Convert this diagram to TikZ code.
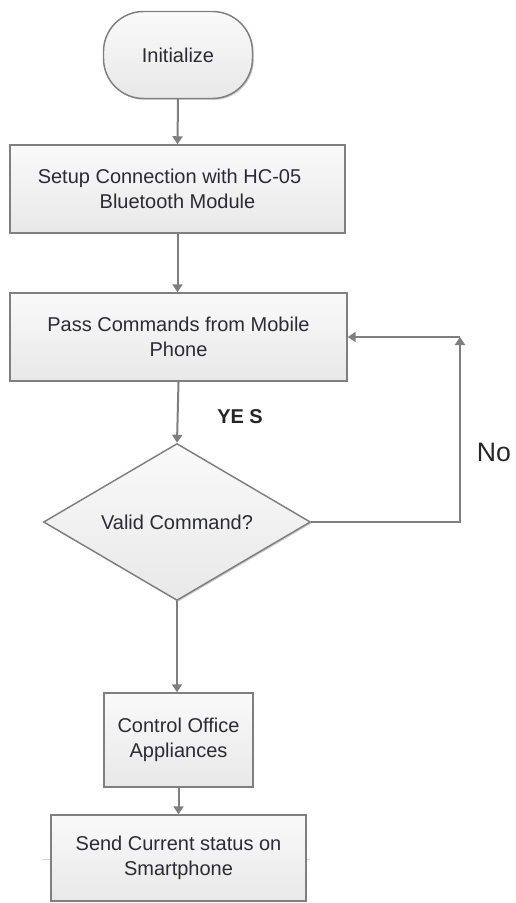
\documentclass[tikz,border=0pt]{standalone}
\usepackage{fontspec}
\setmainfont{Liberation Sans}
\usetikzlibrary{shapes.geometric,arrows.meta,shadows}
\definecolor{linegray}{HTML}{7F7F7F}
\definecolor{txt}{HTML}{2B2B33}
\tikzset{
  box/.style={draw=linegray, line width=1.1pt, top color=white!98!black, bottom color=white!91!black,
    text=txt, font=\fontsize{15}{19}\selectfont, align=center, inner sep=0pt,
    drop shadow={shadow xshift=1pt, shadow yshift=-1pt, opacity=0.2, fill=black}},
  arr/.style={draw=linegray, line width=1.5pt, -{Triangle[width=7.5pt,length=6pt]}},
  lbl/.style={text=black!85, inner sep=0pt},
}
\begin{document}
\begin{tikzpicture}[x=0.75pt, y=-0.75pt]
\useasboundingbox (0,0) rectangle (516,903);
\node[box, rounded corners=30pt, minimum width=111.75pt, minimum height=65.25pt] (init) at (178,55) {Initialize};
\node[box, minimum width=251.25pt, minimum height=66pt] (setup) at (177.5,189) {Setup Connection with HC-05\hspace*{12pt}\\Bluetooth Module};
\node[box, minimum width=252.75pt, minimum height=66pt] (pass) at (178.5,337) {Pass Commands from Mobile\\Phone};
\node[box, shape=diamond, aspect=1.7, minimum width=200.25pt, minimum height=117.75pt] (dec) at (177,522) {Valid Command?};
\node[box, minimum width=111.75pt, minimum height=70.5pt] (ctrl) at (178.5,740) {Control Office\\Appliances};
\draw[black!15, line width=0.75pt] (42,859) -- (310,859);
\node[box, minimum width=191.25pt, minimum height=64.5pt] (send) at (178.5,858) {Send Current status on\\Smartphone};

\coordinate (c1) at (460,522);
\coordinate (c2) at (460,337);

\draw[arr] (init.south) -- (setup.north);
\draw[arr] (setup.south) -- (setup.south |- pass.north);
\draw[arr] (pass.south) -- (dec.north);
\draw[arr] (dec.south) -- (dec.south |- ctrl.north);
\draw[arr] (ctrl.south) -- (ctrl.south |- send.north);
\draw[arr] (dec.east) -- (c1) -- (c2);
\draw[arr] (c2) -- (pass.east |- c2);

\node[lbl, font=\fontsize{15}{18}\selectfont\bfseries] (yes) at (240,417) {YE\hspace{4pt}S};
\node[lbl, font=\fontsize{20}{24}\selectfont] (no) at (494,452) {No};
\end{tikzpicture}
\end{document}
